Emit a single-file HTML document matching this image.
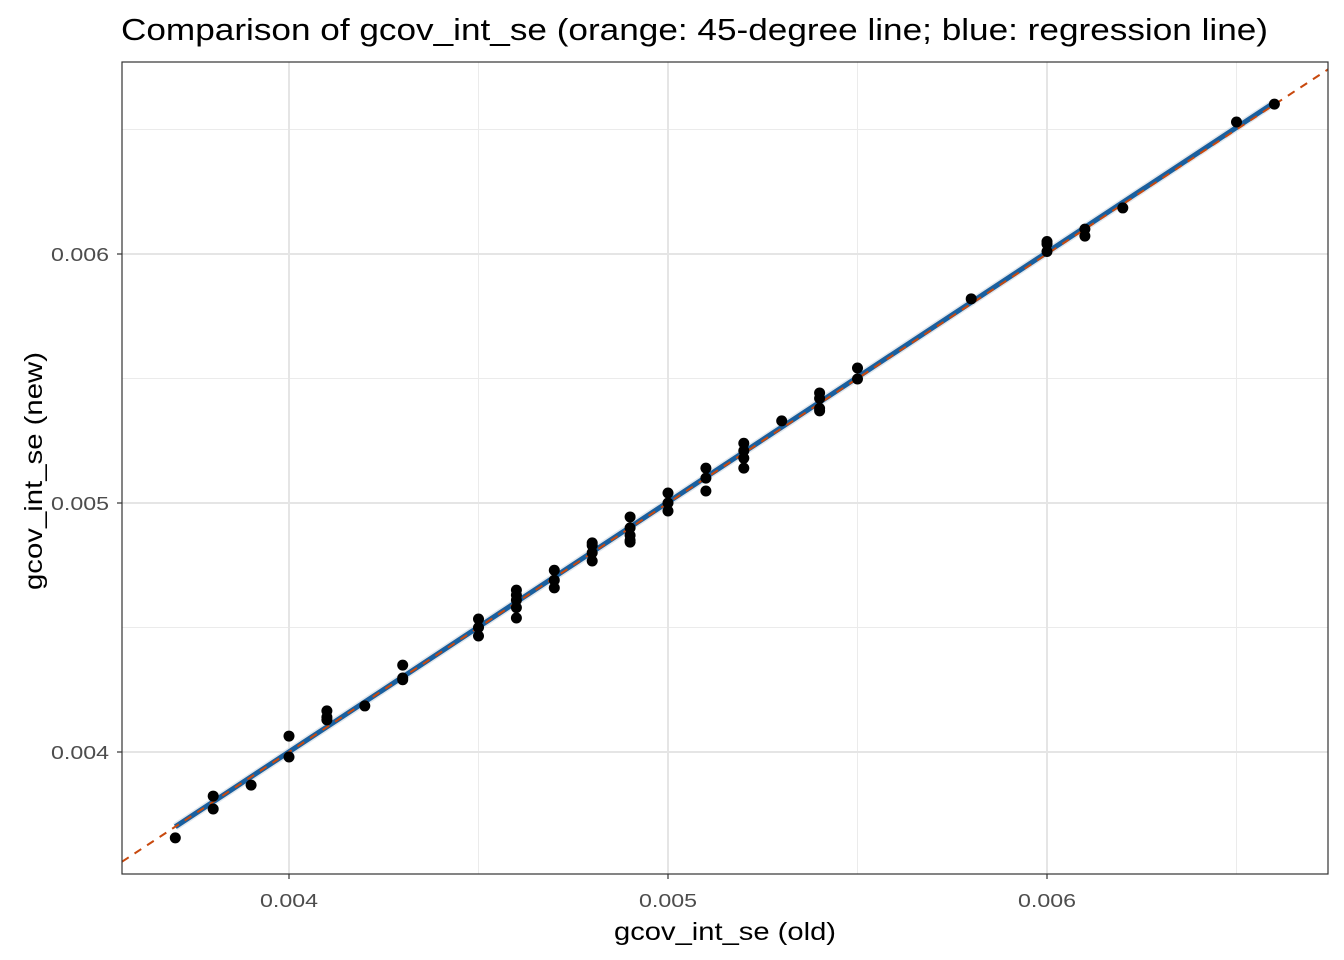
<!DOCTYPE html>
<html><head><meta charset="utf-8"><style>
body{margin:0;background:#fff;}
svg{display:block;font-family:"Liberation Sans",Arial,sans-serif;}
</style></head><body>
<svg id="chart" width="1344" height="960">
<text x="121" y="40" font-size="31" textLength="1147" lengthAdjust="spacingAndGlyphs" fill="#000">Comparison of gcov_int_se (orange: 45-degree line; blue: regression line)</text>
<g id="grid"></g>
<g id="lines"></g>
<g id="pts"></g>
<rect x="122" y="62" width="1206" height="812" fill="none" stroke="#333" stroke-width="1.2"/>
<g id="ticks"></g>
<text x="725" y="940" font-size="25" textLength="222" lengthAdjust="spacingAndGlyphs" text-anchor="middle">gcov_int_se (old)</text>
<text transform="translate(42,471) rotate(-90)" font-size="25" textLength="238" lengthAdjust="spacingAndGlyphs" text-anchor="middle">gcov_int_se (new)</text>
</svg>
<script>
const xOld=[0.0037,0.0038,0.0038,0.0039,0.004,0.004,0.0041,0.0041,0.0041,0.0042,0.0043,0.0043,0.0043,0.0045,0.0045,0.0045,0.0046,0.0046,0.0046,0.0046,0.0046,0.0047,0.0047,0.0047,0.0048,0.0048,0.0048,0.0048,0.0049,0.0049,0.0049,0.0049,0.0049,0.005,0.005,0.005,0.0051,0.0051,0.0051,0.0052,0.0052,0.0052,0.0052,0.0053,0.0054,0.0054,0.0054,0.0054,0.0055,0.0055,0.0058,0.006,0.006,0.006,0.0061,0.0061,0.0062,0.0065,0.0066];
const yNew=[0.003655,0.003823,0.003771,0.003867,0.004064,0.00398,0.004165,0.00414,0.004129,0.004185,0.004349,0.004297,0.00429,0.004534,0.0045,0.004466,0.00465,0.00463,0.00461,0.00458,0.004538,0.00473,0.00469,0.004659,0.00484,0.00483,0.0048,0.004767,0.004944,0.0049,0.00487,0.00485,0.004843,0.00504,0.005,0.004968,0.00514,0.0051,0.005048,0.00524,0.00521,0.00518,0.00514,0.00533,0.005442,0.00542,0.00538,0.00537,0.005542,0.005498,0.00582,0.00605,0.00604,0.00601,0.0061,0.006072,0.006185,0.00653,0.006602];
const xTicks=[0.004,0.005,0.006];
const yTicks=[0.004,0.005,0.006];
const xMinor=[0.0045,0.0055,0.0065];
const yMinor=[0.0045,0.0055,0.0065];
const xLabels=["0.004","0.005","0.006"];
const yLabels=["0.004","0.005","0.006"];
const NS="http://www.w3.org/2000/svg";
const L=122,R=1328,T=62,B=874;
const X=v=>289+(v-0.004)*379000;
const Y=v=>503-(v-0.005)*249000;
const xInv=p=>0.004+(p-289)/379000, yInv=p=>0.005-(p-503)/249000;
function mk(tag,attrs,parent){const e=document.createElementNS(NS,tag);for(const k in attrs)e.setAttribute(k,attrs[k]);document.getElementById(parent).appendChild(e);return e;}
xMinor.forEach(v=>{const e=mk('line',{x1:X(v),x2:X(v),y1:T,y2:B,stroke:'#ebebeb','stroke-width':1},'grid');

});
yMinor.forEach(v=>{const e=mk('line',{x1:L,x2:R,y1:Y(v),y2:Y(v),stroke:'#ebebeb','stroke-width':1},'grid');

});
xTicks.forEach((v,i)=>{const e=mk('line',{x1:X(v),x2:X(v),y1:T,y2:B,stroke:'#e5e5e5','stroke-width':2},'grid');


const t=mk('line',{x1:X(v),x2:X(v),y1:B,y2:B+5,stroke:'#333','stroke-width':1.2},'ticks');


const s=mk('text',{x:X(v),y:B+33,'font-size':18,textLength:58,lengthAdjust:'spacingAndGlyphs',fill:'#4d4d4d','text-anchor':'middle'},'ticks');s.textContent=xLabels[i];

});
yTicks.forEach((v,i)=>{const e=mk('line',{x1:L,x2:R,y1:Y(v),y2:Y(v),stroke:'#e5e5e5','stroke-width':2},'grid');


const t=mk('line',{x1:L-5,x2:L,y1:Y(v),y2:Y(v),stroke:'#333','stroke-width':1.2},'ticks');


const s=mk('text',{x:L-13,y:Y(v)+7,'font-size':18,textLength:58,lengthAdjust:'spacingAndGlyphs',fill:'#4d4d4d','text-anchor':'end'},'ticks');s.textContent=yLabels[i];

});
const n=xOld.length;let mx=0,my=0;for(let i=0;i<n;i++){mx+=xOld[i];my+=yNew[i];}mx/=n;my/=n;
let sxy=0,sxx=0;for(let i=0;i<n;i++){sxy+=(xOld[i]-mx)*(yNew[i]-my);sxx+=(xOld[i]-mx)**2;}
const b=sxy/sxx,a=my-b*mx;const x0=Math.min(...xOld),x1=Math.max(...xOld);
const rib=mk('line',{x1:X(x0),y1:Y(a+b*x0),x2:X(x1),y2:Y(a+b*x1),stroke:'#c9d3dc','stroke-width':8,opacity:0.5},'lines');


const reg=mk('line',{x1:X(x0),y1:Y(a+b*x0),x2:X(x1),y2:Y(a+b*x1),stroke:'#1a5f9e','stroke-width':5},'lines');


const d0=Math.max(xInv(L),yInv(B)),d1=Math.min(xInv(R),yInv(T));
const diag=mk('line',{x1:X(d0),y1:Y(d0),x2:X(d1),y2:Y(d1),stroke:'#c8490e','stroke-width':2,'stroke-dasharray':'8,7'},'lines');


for(let i=0;i<n;i++){const c=mk('circle',{cx:X(xOld[i]),cy:Y(yNew[i]),r:5.5,fill:'#000'},'pts');

}
</script>
</body></html>
